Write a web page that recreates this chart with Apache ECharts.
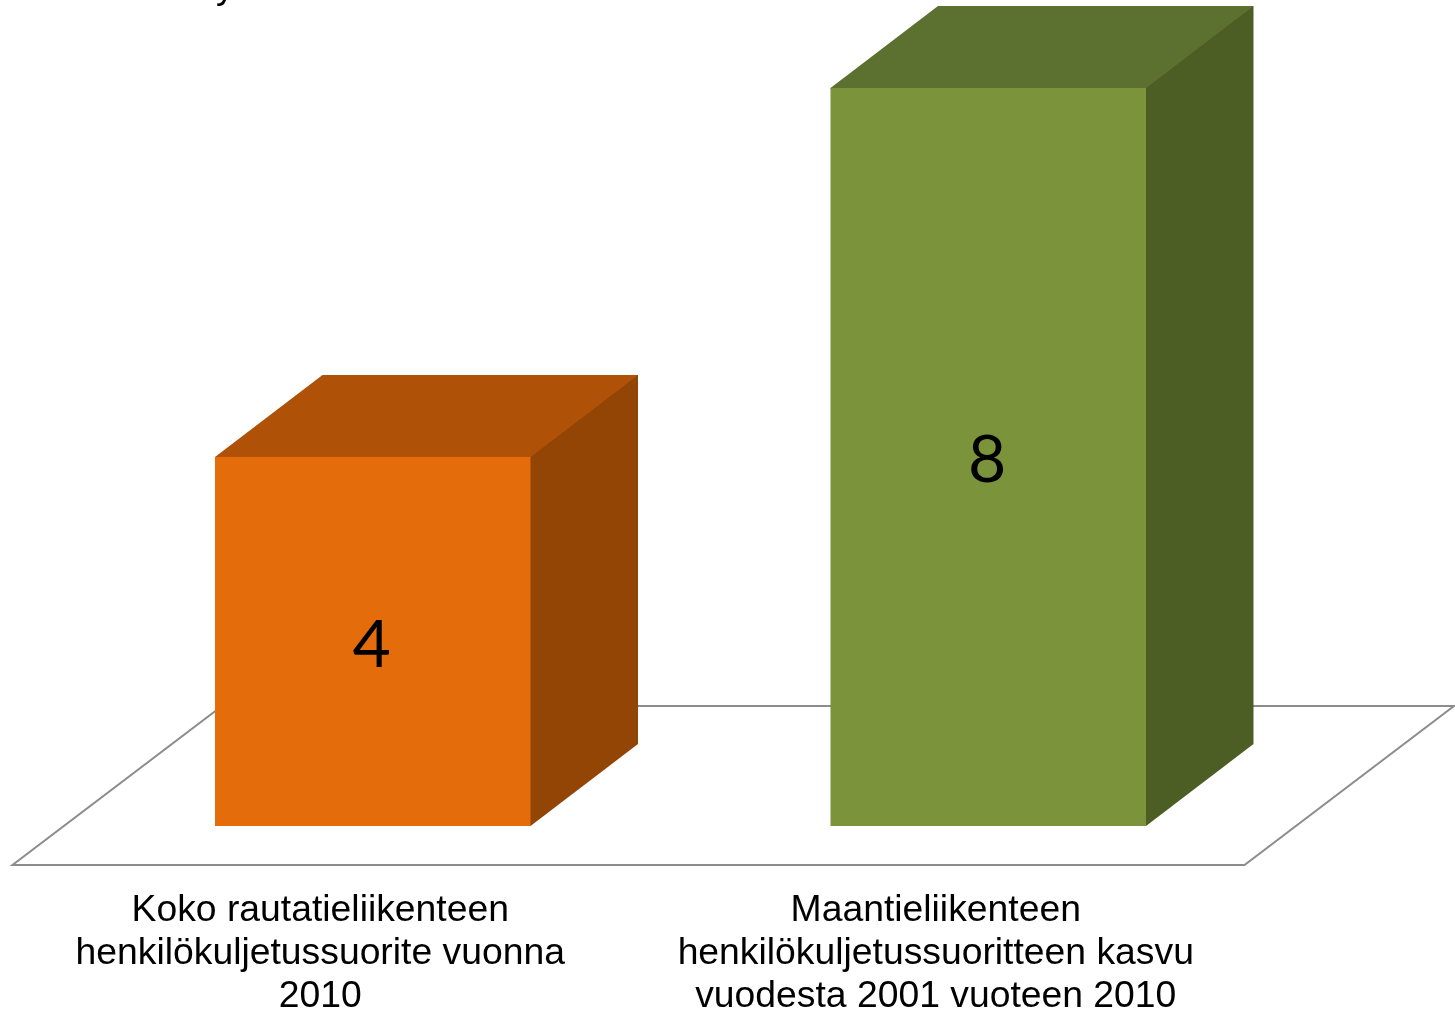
<!DOCTYPE html>
<html>
<head>
<meta charset="utf-8">
<style>html,body{margin:0;padding:0;background:#fff;overflow:hidden}#c{width:1455px;height:1009px}</style>
<script src="https://cdn.jsdelivr.net/npm/echarts@6/dist/echarts.min.js"></script>
</head>
<body>
<div id="c"></div>
<script>
const categories = [
  "Koko rautatieliikenteen\nhenkilökuljetussuorite vuonna\n2010",
  "Maantieliikenteen\nhenkilökuljetussuoritteen kasvu\nvuodesta 2001 vuoteen 2010"
];
const values = [4, 8];
const frontColors = ["#E46C0A", "#7B943C"];
const topColors = ["#AF5106", "#5C7030"];
const sideColors = ["#934505", "#4D5E24"];
const clippedTitle = "y";

const chart = echarts.init(document.getElementById('c'), null, {renderer: 'canvas', width: 1455, height: 1009});
const GRID = {left: 12.5, top: 88, width: 1231, height: 738, outerBoundsMode: 'none'};
const BAR_W = 315.5, BAR_SHIFT = 52.5, DX = 107.5, DY = -82;
const FLOOR_DROP = 39, FLOOR_DX = 209.5, FLOOR_DY = -159, FLOOR_EXTRA = 1;

function poly(points, fill) {
  return {type: 'polygon', shape: {points}, style: {fill}};
}
function renderFloor(params, api) {
  const cs = params.coordSys;
  const y = cs.y + cs.height + FLOOR_DROP, l = cs.x, r = cs.x + cs.width + FLOOR_EXTRA;
  return {
    type: 'polygon',
    shape: {points: [[l, y], [r, y], [r + FLOOR_DX, y + FLOOR_DY], [l + FLOOR_DX, y + FLOOR_DY]]},
    style: {fill: '#fff', stroke: '#8C8C8C', lineWidth: 2},
    silent: true
  };
}
function renderBar(params, api) {
  const i = api.value(0);
  const top = api.coord([i, api.value(1)]);
  const base = api.coord([i, 0]);
  const x0 = top[0] + BAR_SHIFT - BAR_W / 2, x1 = x0 + BAR_W;
  const yT = top[1], yB = base[1];
  return {
    type: 'group',
    children: [
      poly([[x1 - 1, yT], [x1 + DX - 1, yT + DY], [x1 + DX, yT + DY], [x1 + DX, yB + DY], [x1, yB], [x1 - 1, yB]], sideColors[i]),
      poly([[x0, yT + 1], [x0, yT], [x0 + DX, yT + DY], [x1 + DX, yT + DY], [x1, yT], [x1, yT + 1]], topColors[i]),
      {type: 'rect', shape: {x: x0, y: yT, width: BAR_W, height: yB - yT}, style: {fill: frontColors[i]}},
      {type: 'text', style: {
        text: String(api.value(1)), x: (x0 + x1) / 2 - 1, y: (yT + yB) / 2 + 4,
        align: 'center', verticalAlign: 'middle',
        font: '66px Lato, "Open Sans", sans-serif', fill: '#000'
      }}
    ]
  };
}
chart.setOption({
  animation: false,
  backgroundColor: '#fff',
  grid: GRID,
  graphic: [{
    type: 'text', x: 216, y: 6,
    style: {text: clippedTitle, font: '37px "Liberation Sans", Arial, sans-serif', fill: '#000', verticalAlign: 'bottom'}
  }],
  xAxis: {
    type: 'category', data: categories,
    axisLine: {show: false}, axisTick: {show: false}, splitLine: {show: false},
    axisLabel: {
      interval: 0, margin: 63, color: '#000',
      fontFamily: '"Liberation Sans", Arial, sans-serif', fontSize: 37.3, lineHeight: 43
    }
  },
  yAxis: {type: 'value', min: 0, max: 8, show: false},
  series: [
    {type: 'custom', name: 'floor', renderItem: renderFloor, data: [0], clip: false, silent: true, z: 1,
     encode: {x: -1, y: -1}},
    {type: 'custom', name: 'bars', renderItem: renderBar, clip: false, z: 2,
     data: values.map((v, i) => [i, v]), encode: {x: 0, y: 1}}
  ]
});
</script>
</body>
</html>
